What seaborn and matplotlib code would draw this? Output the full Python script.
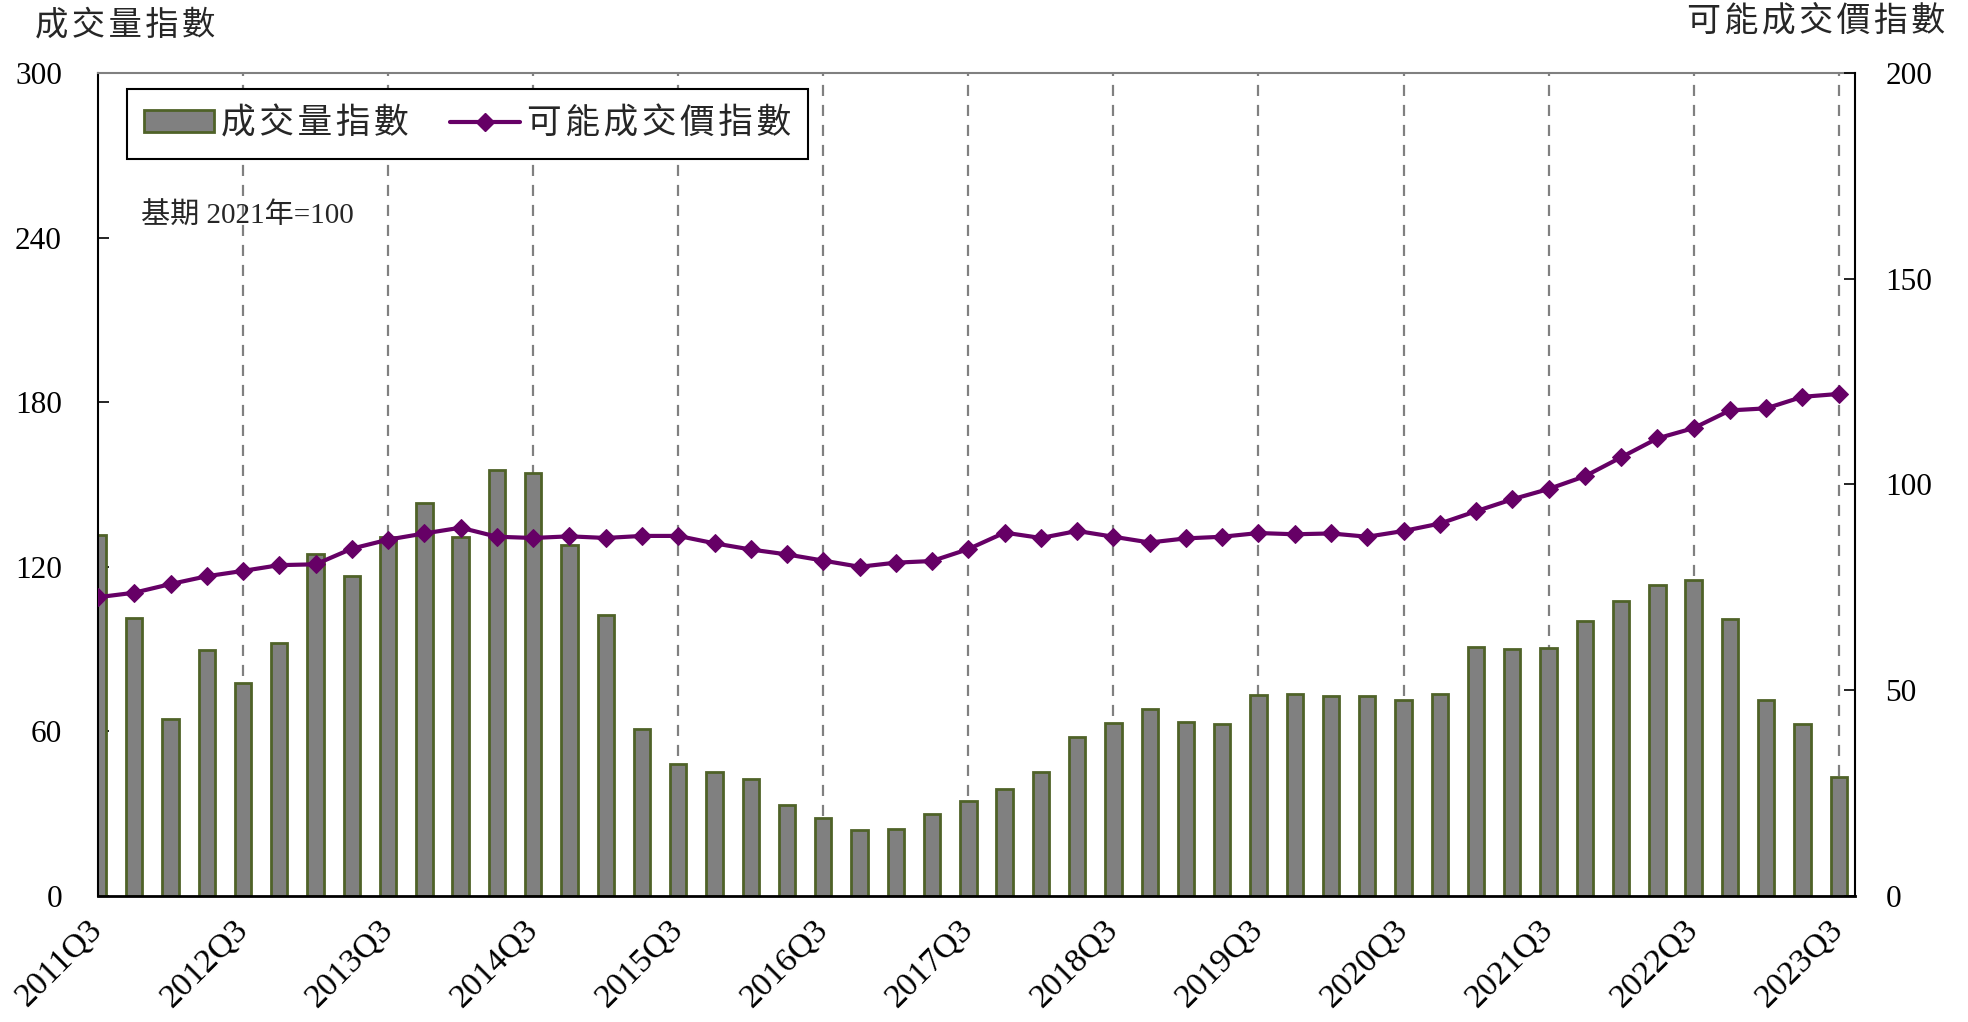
import matplotlib
matplotlib.use('Agg')
import matplotlib.pyplot as plt
import seaborn as sns
import pandas as pd
from matplotlib.patches import Patch
from matplotlib.lines import Line2D

sns.set_style('white')
plt.rcParams['font.family'] = ['Liberation Serif', 'Noto Sans CJK TC', 'DejaVu Sans']

quarters = [f"{y}Q{q}" for y in range(2011, 2024) for q in range(1, 5)][2:-1]

volume = [131.5, 101.3, 64.5, 89.5, 77.6, 92.2, 124.5, 116.5, 131.0, 143.4,
          130.8, 155.4, 154.2, 128.0, 102.4, 60.7, 48.2, 45.3, 42.6, 33.0,
          28.3, 23.9, 24.3, 29.8, 34.6, 38.9, 45.3, 58.0, 62.9, 68.2,
          63.5, 62.6, 73.3, 73.7, 72.9, 72.9, 71.5, 73.8, 90.9, 89.9,
          90.3, 100.1, 107.6, 113.3, 115.1, 101.1, 71.6, 62.8, 43.2]

price = [72.6, 73.7, 75.8, 77.7, 79.0, 80.4, 80.6, 84.4, 86.6, 88.1,
         89.5, 87.3, 87.0, 87.4, 87.0, 87.5, 87.5, 85.7, 84.2, 83.0,
         81.5, 80.0, 81.0, 81.4, 84.3, 88.3, 87.0, 88.7, 87.3, 85.9,
         86.9, 87.3, 88.2, 87.9, 88.1, 87.3, 88.7, 90.5, 93.5, 96.4,
         98.9, 102.0, 106.6, 111.2, 113.7, 118.0, 118.5, 121.3, 122.0]

left_ticks = [0, 60, 120, 180, 240, 300]
right_ticks = [0, 50, 100, 150, 200]
tick_labels = quarters[::4]

vol_name = '成交量指數'
price_name = '可能成交價指數'
base_note = '基期 2021年=100'

df = pd.DataFrame({'pos': list(range(len(quarters))), 'quarter': quarters,
                   'volume': volume, 'price': price})

BAR_FACE = '#808080'
BAR_EDGE = '#4F6228'
LINE_C = '#660066'
CJK = ['Noto Sans CJK TC', 'DejaVu Sans']
HS = '\u200a'


def spaced(s):
    return HS.join(s)


fig = plt.figure(figsize=(19.68, 10.22), dpi=100)
ax = fig.add_axes([0.0498, 0.1233, 0.8928, 0.8053])

for p in range(4, len(quarters), 4):
    ax.axvline(p, color='#808080', ls=(0, (5, 4)), lw=1.6, zorder=0)

sns.barplot(data=df, x='pos', y='volume', native_scale=True, color=BAR_FACE,
            saturation=1, width=0.45, edgecolor=BAR_EDGE, linewidth=2, ax=ax, zorder=2)

ax.set_xlim(0, len(quarters) - 1 + 0.45)
ax.set_ylim(0, 300)
ax.set_yticks(left_ticks)
ax.set_xticks(list(range(0, len(quarters), 4)))
ax.set_xticklabels(tick_labels, rotation=45, ha='right', va='center', rotation_mode='anchor')
ax.set_xlabel('')
ax.set_ylabel('')
ax.tick_params(axis='y', direction='in', length=8, width=1.2, labelsize=22.5, pad=26, colors='black')
ax.tick_params(axis='x', direction='in', length=8, width=1.2, labelsize=24.5, pad=21, colors='black')
for lbl in ax.get_xticklabels():
    lbl.set_x(lbl.get_position()[0])

ax2 = ax.twinx()
sns.lineplot(data=df, x='pos', y='price', ax=ax2, color=LINE_C, marker='D', markersize=9,
             markeredgecolor=LINE_C, linewidth=3)
ax2.set_ylim(0, 200)
ax2.set_yticks(right_ticks)
ax2.set_xlabel('')
ax2.set_ylabel('')
ax2.tick_params(axis='y', direction='in', length=8, width=1.2, labelsize=22.5, pad=22, colors='black')
ax2.set_xlim(0, len(quarters) - 1 + 0.45)

for s in ['top', 'left', 'bottom']:
    ax2.spines[s].set_visible(False)
ax2.spines['right'].set_color('black')
ax2.spines['right'].set_linewidth(1.5)
ax.spines['right'].set_visible(False)
ax.spines['top'].set_color('#808080')
ax.spines['top'].set_linewidth(1.5)
ax.spines['left'].set_color('black')
ax.spines['left'].set_linewidth(1.5)
ax.spines['bottom'].set_color('black')
ax.spines['bottom'].set_linewidth(2)

ax.text(0.0245, 0.826, base_note, transform=ax.transAxes, fontsize=21, va='center', ha='left')

fig.text(35 / 1968, 1 - 25 / 1022, spaced(vol_name), fontsize=24, va='center', ha='left', family=CJK)
fig.text(1945 / 1968, 1 - 21 / 1022, spaced(price_name), fontsize=24.5, va='center', ha='right', family=CJK)

handles = [Patch(facecolor=BAR_FACE, edgecolor=BAR_EDGE, linewidth=2, label=spaced(vol_name)),
           Line2D([], [], color=LINE_C, marker='D', markersize=9, lw=3, label=spaced(price_name))]
leg = ax2.legend(handles=handles, loc='upper left', bbox_to_anchor=(0.0165, 0.9806), ncol=2,
                 frameon=True, fancybox=False, edgecolor='black', framealpha=1,
                 prop={'family': CJK, 'size': 25}, handlelength=2.0, handleheight=0.6,
                 columnspacing=1.2, borderpad=0.5, handletextpad=0.2, borderaxespad=0)
leg.get_frame().set_linewidth(1.5)

fig.savefig('out.png', dpi=100)
